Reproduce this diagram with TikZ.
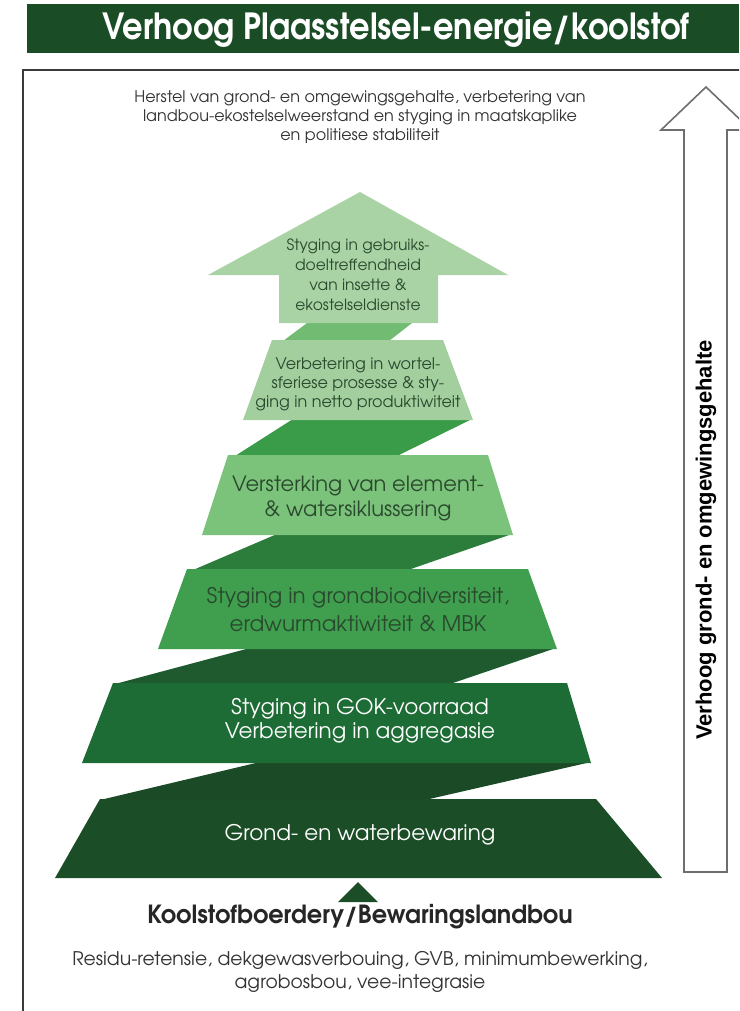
\documentclass[tikz,border=0pt]{standalone}
\usepackage{fontspec}
\setmainfont{texgyreadventor}[Extension=.otf, UprightFont=*-regular, BoldFont=*-bold]
\newfontfamily\arialfont{Liberation Sans}
\newfontfamily\titlefont{texgyreadventor}[Extension=.otf, UprightFont=*-bold, FakeStretch=0.89]
\newfontfamily\basefont{texgyreadventor}[Extension=.otf, UprightFont=*-bold, FakeStretch=0.96]
\definecolor{titlegreen}{HTML}{1A4D25}
\definecolor{tA}{HTML}{A9D3A5}
\definecolor{tB}{HTML}{A3CF9F}
\definecolor{tC}{HTML}{7BC27A}
\definecolor{tD}{HTML}{3F9F4E}
\definecolor{tE}{HTML}{1D6C35}
\definecolor{tF}{HTML}{1B4E27}
\definecolor{bA}{HTML}{72BB72}
\definecolor{bB}{HTML}{3A9C48}
\definecolor{bC}{HTML}{2C7C3B}
\definecolor{bD}{HTML}{1E5A2E}
\definecolor{bE}{HTML}{1B4A27}
\definecolor{darktext}{HTML}{2A4A2E}
\definecolor{graytext}{HTML}{333333}
\definecolor{framegray}{HTML}{3A3A3A}
\definecolor{arrowgray}{HTML}{6E6E6E}
\tikzset{
  lbl/.style={align=center, inner sep=0pt},
  steptext/.style={lbl, text=darktext},
  whitetext/.style={lbl, text=white},
}
\begin{document}
\begin{tikzpicture}[x=1pt,y=-1pt]
\useasboundingbox (0,0) rectangle (739,1011);
\clip (0,0) rectangle (739,1011);
\fill[white] (0,0) rectangle (739,1011);
% title bar
\fill[titlegreen] (27,4) rectangle (739,53);
\node[lbl, text=white, font=\titlefont\fontsize{36}{40}\selectfont] (title) at (396,30) {Verhoog Plaasstelsel-energie/koolstof};
% frame
\draw[framegray, line width=2.2pt] (23,1015) -- (23,70) -- (745,70);
% top text
\node[lbl, text=graytext, font=\fontsize{16}{19}\selectfont] (goal) at (360,117) {Herstel van grond- en omgewingsgehalte, verbetering van\\landbou-ekostelselweerstand en styging in maatskaplike\\en politiese stabiliteit};
% bands
\fill[bA] (307,323) -- (412,323) -- (389,341) -- (283,341) -- cycle;
\fill[bB] (293,419) -- (472,419) -- (397,456) -- (235,456) -- cycle;
\fill[bC] (277,534) -- (512,534) -- (408,570) -- (193,570) -- cycle;
\fill[bD] (250,648) -- (556,648) -- (450,684) -- (115,684) -- cycle;
\fill[bE] (260,762) -- (591,762) -- (425,800) -- (100,800) -- cycle;
% step shapes
\fill[tA] (360,192) -- (508,275) -- (438,275) -- (438,323) -- (279,323) -- (279,275) -- (208,275) -- cycle;
\fill[tB] (272,340) -- (443,340) -- (473,420) -- (243,420) -- cycle;
\fill[tC] (228,455) -- (488,455) -- (513,535) -- (202,535) -- cycle;
\fill[tD] (187,569) -- (528,569) -- (557,649) -- (158,649) -- cycle;
\fill[tE] (113,683) -- (567,683) -- (591,763) -- (82,763) -- cycle;
\fill[tF] (100,799) -- (596,799) -- (662,878) -- (55,878) -- cycle;
% step labels
\node[steptext, font=\fontsize{15.5}{20}\selectfont] (s1) at (358,275) {Styging in gebruiks-\\doeltreffendheid\\van insette \&\\ekostelseldienste};
\node[steptext, font=\fontsize{16}{19}\selectfont] (s2) at (358,384) {Verbetering in wortel-\\sferiese prosesse \& sty-\\ging in netto produktiwiteit};
\node[steptext, font=\fontsize{21}{25}\selectfont] (s3) at (358,498) {Versterking van element-\\\& watersiklussering};
\node[steptext, font=\fontsize{21.5}{28}\selectfont] (s4) at (358,610) {Styging in grondbiodiversiteit,\\erdwurmaktiwiteit \& MBK};
\node[whitetext, font=\fontsize{21.5}{24}\selectfont] (s5) at (360,721) {Styging in GOK-voorraad\\Verbetering in aggregasie};
\node[whitetext, font=\fontsize{21.5}{24}\selectfont] (s6) at (360,835) {Grond- en waterbewaring};
% small triangle
\fill[tF] (358,882) -- (378,902) -- (338,902) -- cycle;
% bottom labels
\node[lbl, text=black!85, font=\basefont\fontsize{25}{28}\selectfont] (base) at (360,917) {Koolstofboerdery/Bewaringslandbou};
\node[lbl, text=graytext, font=\fontsize{18.8}{23}\selectfont] (practices) at (360,972) {Residu-retensie, dekgewasverbouing, GVB, minimumbewerking,\\agrobosbou, vee-integrasie};
% right arrow
\draw[arrowgray, line width=1.6pt, fill=white] (684,872) -- (684,130) -- (661,130) -- (706,87) -- (751,130) -- (727,130) -- (727,872) -- cycle;
\node[lbl, rotate=90, text=black, font=\arialfont\bfseries\fontsize{22}{24}\selectfont] (side) at (706,540) {Verhoog grond- en omgewingsgehalte};
\end{tikzpicture}
\end{document}
